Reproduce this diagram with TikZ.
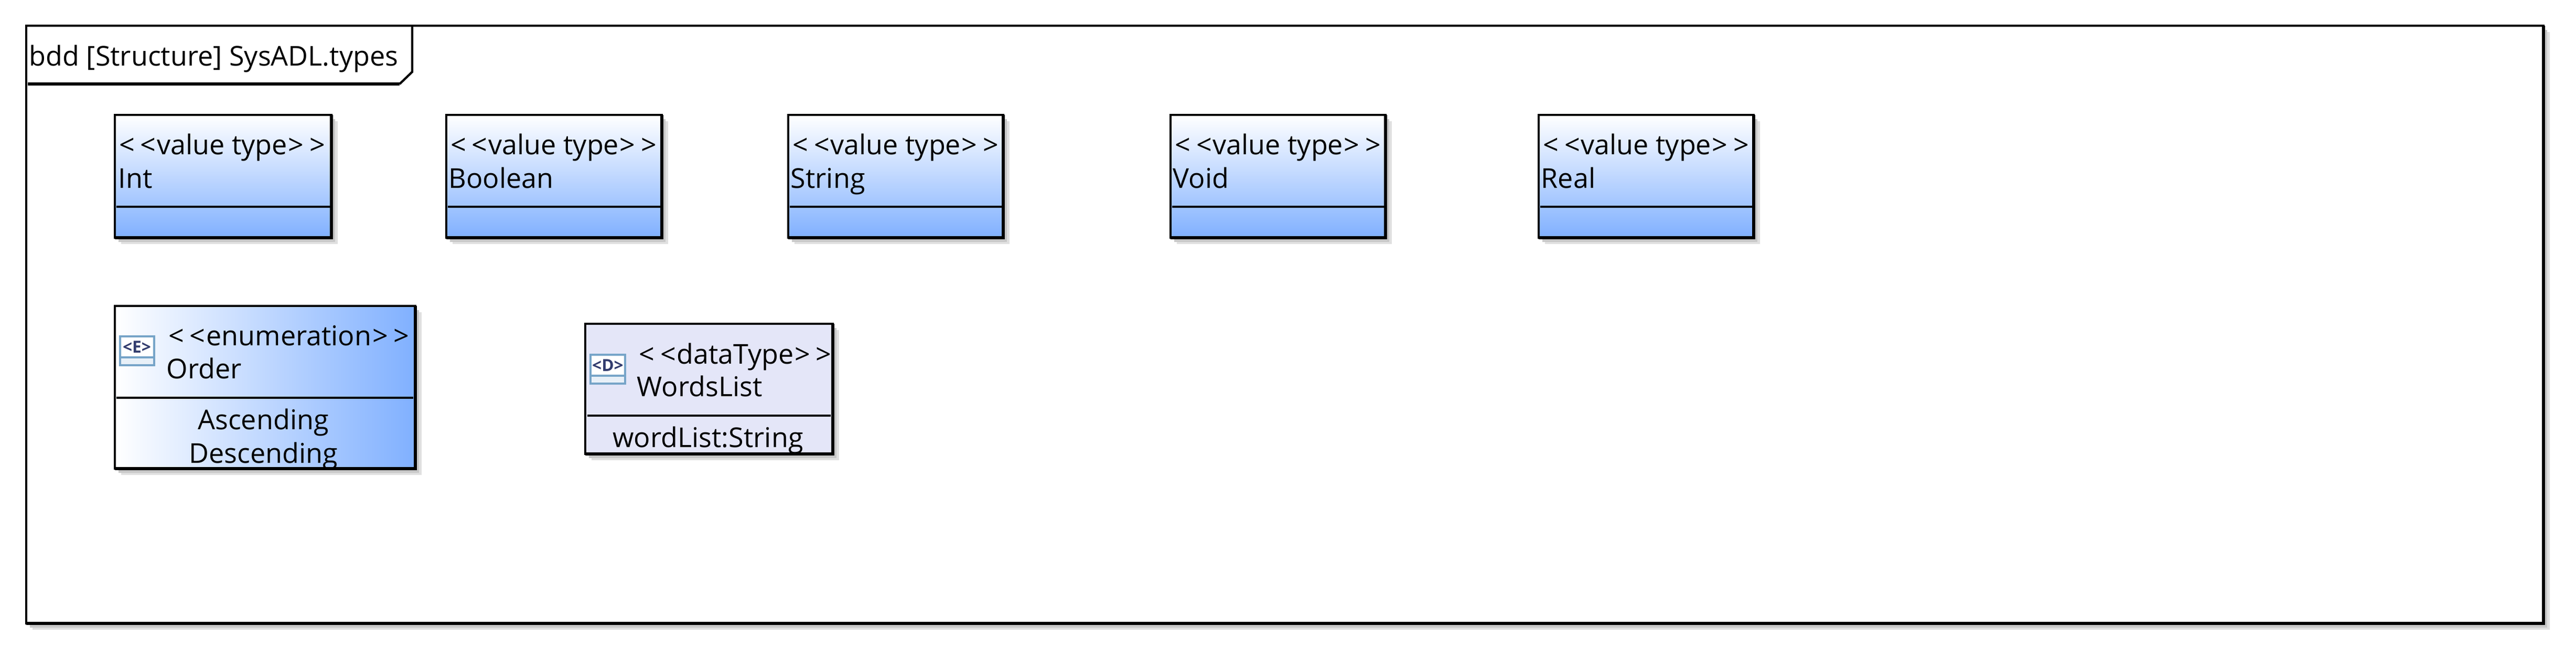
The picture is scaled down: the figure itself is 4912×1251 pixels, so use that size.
\documentclass[tikz,border=0pt]{standalone}
\usepackage{xcolor}
\usepackage{fontspec}
\setmainfont{Open Sans}
\usetikzlibrary{shadows}
\definecolor{typeblue}{RGB}{128,176,255}
\definecolor{datafill}{RGB}{228,230,248}
\definecolor{iconblue}{RGB}{118,164,200}
\definecolor{iconpale}{RGB}{232,240,248}
\definecolor{icontext}{RGB}{50,60,110}
\newcommand{\stereo}[1]{<\hspace{3pt}<\hspace{0.5pt}#1\hspace{0.5pt}>\hspace{3pt}>}
\tikzstyle{boxline} = [line width=1pt, line join=miter]
\tikzstyle{edgeline} = [line width=1.5pt, line join=miter]
\tikzstyle{divider} = [line width=1pt]
\tikzstyle{boxshade} = [drop shadow={shadow xshift=0.12cm, shadow yshift=-0.12cm, fill=black!12, opacity=1},
    drop shadow={shadow xshift=0.07cm, shadow yshift=-0.08cm, fill=black!22, opacity=1}]
\tikzstyle{valuebox} = [boxline, boxshade, top color=white, bottom color=typeblue]
\tikzstyle{enumbox} = [boxline, boxshade, left color=white, right color=typeblue]
\tikzstyle{databox} = [boxline, boxshade, fill=datafill]
\tikzstyle{label} = [inner sep=0pt, anchor=base west, font=\fontsize{14.8}{18}\selectfont]
\tikzstyle{item} = [inner sep=0pt, anchor=base, font=\fontsize{14.8}{18}\selectfont]
\tikzstyle{icon} = [line width=1.4pt, draw=iconblue, fill=iconpale]
\tikzstyle{iconlabel} = [inner sep=0pt, text=icontext, font=\fontsize{9}{10}\selectfont\bfseries]

\begin{document}
\begin{tikzpicture}[x=0.01cm, y=-0.01cm]
        \useasboundingbox (0,0) rectangle (4912,1251);

        % Frame
        \draw[boxline, boxshade, fill=white] (50,49) rectangle (4850,1188);
        \draw[edgeline] (4850,49) |- (50,1188);
        \draw[boxline, line width=1.2pt] (786,49) -- (786,137) -- (762,160);
        \draw[edgeline] (53,160) -- (762,160);
        \node[label] (frametitle) at (55,125) {bdd [Structure] SysADL.types};

        % Value types
        \draw[valuebox] (219,219) rectangle (632,453);
        \node[label] (intstereo) at (227,294) {\stereo{value type}};
        \node[label] (intname) at (225,358) {Int};
        \draw[divider] (222,394) -- (630,394);
        \draw[edgeline] (632,219) |- (219,453);

        \draw[valuebox] (851,219) rectangle (1262,453);
        \node[label] (boolstereo) at (859,294) {\stereo{value type}};
        \node[label] (boolname) at (855,358) {Boolean};
        \draw[divider] (854,394) -- (1260,394);
        \draw[edgeline] (1262,219) |- (851,453);

        \draw[valuebox] (1503,219) rectangle (1913,453);
        \node[label] (strstereo) at (1511,294) {\stereo{value type}};
        \node[label] (strname) at (1507,358) {String};
        \draw[divider] (1506,394) -- (1911,394);
        \draw[edgeline] (1913,219) |- (1503,453);

        \draw[valuebox] (2232,219) rectangle (2642,453);
        \node[label] (voidstereo) at (2240,294) {\stereo{value type}};
        \node[label] (voidname) at (2236,358) {Void};
        \draw[divider] (2235,394) -- (2640,394);
        \draw[edgeline] (2642,219) |- (2232,453);

        \draw[valuebox] (2934,219) rectangle (3344,453);
        \node[label] (realstereo) at (2942,294) {\stereo{value type}};
        \node[label] (realname) at (2938,358) {Real};
        \draw[divider] (2937,394) -- (3342,394);
        \draw[edgeline] (3344,219) |- (2934,453);

        % Enumeration
        \draw[enumbox] (219,583) rectangle (792,893);
        \draw[icon] (229,641) rectangle (294,696);
        \draw[icon, fill=white] (229,641) rectangle (294,681);
        \node[iconlabel] (enumicon) at (261,661) {<E>};
        \node[label] (enumstereo) at (321,658) {\stereo{enumeration}};
        \node[label] (enumname) at (317,721) {Order};
        \draw[divider] (222,758) -- (788,758);
        \node[item] (ascending) at (502,818) {Ascending};
        \node[item] (descending) at (502,882) {Descending};
        \draw[edgeline] (792,583) |- (219,893);

        % Data type
        \draw[databox] (1116,617) rectangle (1588,865);
        \draw[icon] (1126,676) rectangle (1192,731);
        \draw[icon, fill=white] (1126,676) rectangle (1192,716);
        \node[iconlabel] (dataicon) at (1159,696) {<D>};
        \node[label] (datastereo) at (1218,693) {\stereo{dataType}};
        \node[label] (dataname) at (1214,755) {WordsList};
        \draw[divider] (1120,792) -- (1584,792);
        \node[item] (wordlist) at (1350,852) {wordList:String};
        \draw[edgeline] (1588,617) |- (1116,865);
\end{tikzpicture}
\end{document}
